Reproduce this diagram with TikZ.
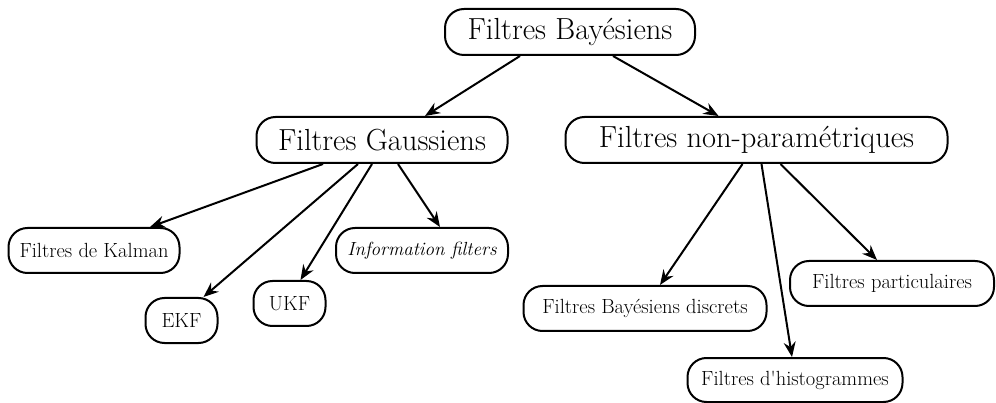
\documentclass[tikz,border=0pt]{standalone}
\usepackage{fontspec}
\usetikzlibrary{arrows.meta}
\begin{document}
\begin{tikzpicture}[x=1pt,y=-1pt,
  box/.style={draw, rounded corners=19pt, line width=2pt, inner sep=0pt, align=center},
  big/.style={box, minimum height=46pt, font=\fontsize{30.5}{33}\selectfont},
  small/.style={box, minimum height=45pt, font=\fontsize{20.5}{23}\selectfont},
  arr/.style={-{Stealth[length=15pt,width=12pt,inset=5pt]}, line width=2pt}]
\useasboundingbox (0,0) rectangle (996,403);
\node[big, minimum width=250pt] (top) at (570,32) {Filtres Bayésiens};
\node[big, minimum width=251pt] (g) at (382,140) {Filtres Gaussiens};
\node[big, minimum width=382pt] (np) at (756.5,140) {Filtres non-paramétriques};
\node[small, minimum width=171pt] (k) at (94,250.5) {Filtres de Kalman};
\node[small, minimum width=172pt, font=\fontsize{19}{22}\selectfont\itshape] (info) at (422,250.5) {Information filters};
\node[small, minimum width=72pt] (ekf) at (181.5,320.5) {EKF};
\node[small, minimum width=72pt] (ukf) at (289.5,303.5) {UKF};
\node[small, minimum width=243pt] (disc) at (645,308.5) {Filtres Bayésiens discrets};
\node[small, minimum width=204pt] (part) at (892,283.5) {Filtres particulaires};
\node[small, minimum width=215pt, minimum height=44pt] (hist) at (795,380) {Filtres d\textquotesingle histogrammes};
\draw[arr] ([xshift=-50pt]top.south) -- ([xshift=43pt]g.north);
\draw[arr] ([xshift=43pt]top.south) -- ([xshift=-38pt]np.north);
\draw[arr] ([xshift=-59pt]g.south) -- ([xshift=56pt]k.north);
\draw[arr] ([xshift=-24pt]g.south) -- ([xshift=22pt]ekf.north);
\draw[arr] ([xshift=-10pt]g.south) -- ([xshift=11pt]ukf.north);
\draw[arr] ([xshift=16pt]g.south) -- ([xshift=18pt]info.north);
\draw[arr] ([xshift=-14pt]np.south) -- ([xshift=15pt]disc.north);
\draw[arr] ([xshift=5pt]np.south) -- ([xshift=-3pt]hist.north);
\draw[arr] ([xshift=24pt]np.south) -- ([xshift=-15pt]part.north);
\end{tikzpicture}
\end{document}
